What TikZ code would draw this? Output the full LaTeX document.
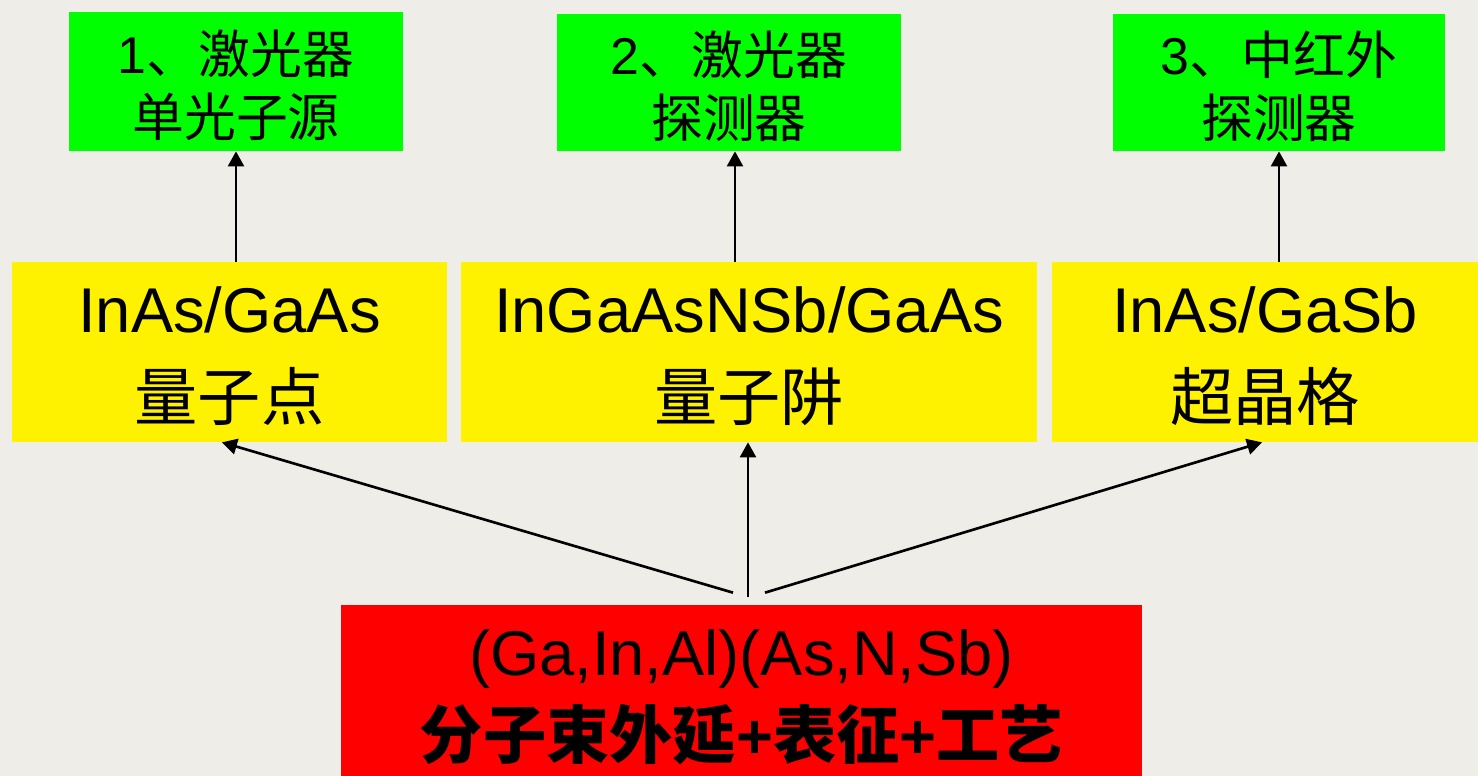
\documentclass[tikz,border=0pt]{standalone}
\usepackage{fontspec}
\setmainfont{Liberation Sans}
\newfontfamily\cjk{Noto Sans CJK SC}
\usetikzlibrary{arrows.meta}

\begin{document}
\begin{tikzpicture}[
    x=0.02cm, y=-0.02cm,
    box/.style={inner sep=0pt, align=center, text depth=0pt},
    greenbox/.style={box, fill=green, minimum height=2.74cm, text height=63pt,
        font=\fontsize{29.5}{36}\selectfont},
    yellowbox/.style={box, fill=yellow, minimum height=3.6cm, text height=78.2pt,
        font=\fontsize{36}{50}\selectfont},
    redbox/.style={box, fill=red, minimum width=16.02cm, minimum height=3.42cm,
        text height=77.1pt, font=\fontsize{36}{47.3}\selectfont},
    arr/.style={line width=1.5pt, -{Triangle[length=8.5pt,width=9pt]}}
]
    \fill[fill={rgb,255:red,238;green,237;blue,231}] (0,0) rectangle (1478,776);
    \useasboundingbox (0,0) rectangle (1478,776);
    % top row
    \node[greenbox, minimum width=6.68cm, minimum height=2.78cm] (g1) at (236,81.5)
        {1{\cjk 、激光器}\\{\cjk 单光子源}};
    \node[greenbox, minimum width=6.88cm] (g2) at (729,82.5)
        {2{\cjk 、激光器}\\{\cjk 探测器}};
    \node[greenbox, minimum width=6.64cm] (g3) at (1279,82.5)
        {3{\cjk 、中红外}\\{\cjk 探测器}};
    % middle row
    \node[yellowbox, minimum width=8.7cm] (y1) at (229.5,352)
        {InAs/GaAs\\{\cjk 量子点}};
    \node[yellowbox, minimum width=11.52cm] (y2) at (749,352)
        {InGaAsNSb/GaAs\\{\cjk 量子阱}};
    \node[yellowbox, minimum width=8.52cm] (y3) at (1265,352)
        {InAs/GaSb\\{\cjk 超晶格}};
    % bottom
    \node[redbox] (red) at (741.5,690.5)
        {(Ga,In,Al)(As,N,Sb)\\{\cjk\bfseries 分子束外延}{\bfseries +}{\cjk\bfseries 表征}{\bfseries +}{\cjk\bfseries 工艺}};
    \coordinate (hub) at ([xshift=0.13cm,yshift=0.16cm]red.north);
    \draw[arr] (g1.south |- y1.north) -- (g1.south);
    \draw[arr] ([xshift=0.12cm]g2.south |- y2.north) -- ([xshift=0.12cm]g2.south);
    \draw[arr] (g3.south |- y3.north) -- (g3.south);
    \draw[arr] ([xshift=-0.17cm,yshift=0.24cm]red.north) -- ([xshift=-0.15cm]y1.south);
    \draw[arr] (hub) -- (hub |- y2.south);
    \draw[arr] ([xshift=0.47cm,yshift=0.24cm]red.north) -- ([xshift=-0.06cm]y3.south);
\end{tikzpicture}
\end{document}
